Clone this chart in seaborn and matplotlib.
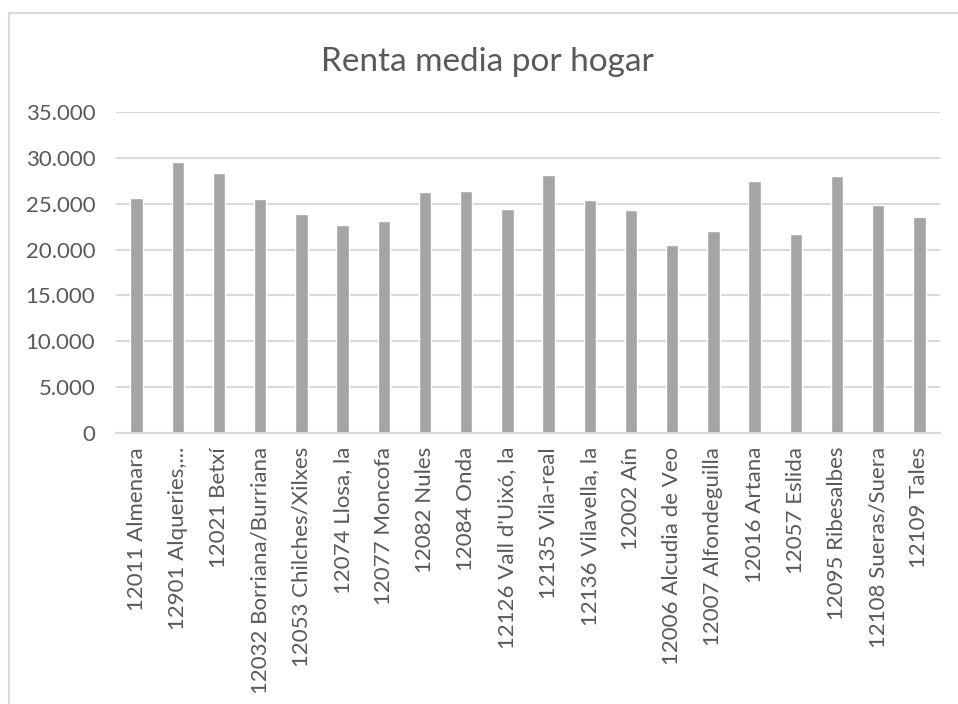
import matplotlib
matplotlib.use("Agg")
import matplotlib.pyplot as plt
import matplotlib.ticker as mticker
from matplotlib.patches import Rectangle
import seaborn as sns
import pandas as pd

# Data
municipios = [
    "12011 Almenara", "12901 Alqueries,...", "12021 Betxí", "12032 Borriana/Burriana",
    "12053 Chilches/Xilxes", "12074 Llosa, la", "12077 Moncofa", "12082 Nules",
    "12084 Onda", "12126 Vall d'Uixó, la", "12135 Vila-real", "12136 Vilavella, la",
    "12002 Aín", "12006 Alcudia de Veo", "12007 Alfondeguilla", "12016 Artana",
    "12057 Eslida", "12095 Ribesalbes", "12108 Sueras/Suera", "12109 Tales",
]
renta = [
    25650, 29560, 28330, 25510, 23830, 22710, 23150, 26230, 26380, 24420,
    28180, 25400, 24270, 20510, 22040, 27490, 21710, 28040, 24860, 23550,
]
y_ticks = [0, 5000, 10000, 15000, 20000, 25000, 30000, 35000]

df = pd.DataFrame({"Municipio": municipios, "Renta": renta})

sns.set_style("white")
plt.rcParams["font.family"] = ["Lato", "DejaVu Sans"]
text_color = "#595959"
grid_color = "#D9D9D9"

fig = plt.figure(figsize=(9.58, 7.04), dpi=100)
ax = fig.add_axes([116 / 958, 1 - 433 / 704, (940 - 116) / 958, (433 - 112) / 704])

sns.barplot(data=df, x="Municipio", y="Renta", color="#A5A5A5", width=0.3,
            saturation=1, ax=ax)

ax.set_ylim(0, 35000)
ax.set_yticks(y_ticks)
ax.yaxis.set_major_formatter(mticker.FuncFormatter(
    lambda v, p: "0" if v == 0 else f"{int(v):,}".replace(",", ".")))
ax.yaxis.grid(True, color=grid_color, linewidth=1.5)
ax.set_axisbelow(True)
ax.set_xlabel("")
ax.set_ylabel("")
for side in ["left", "right", "top"]:
    ax.spines[side].set_visible(False)
ax.spines["bottom"].set_color(grid_color)
ax.spines["bottom"].set_linewidth(1.5)
ax.tick_params(axis="y", length=0, pad=15, labelsize=16, labelcolor=text_color)
ax.tick_params(axis="x", length=0, pad=10, labelsize=16, labelcolor=text_color)
plt.setp(ax.get_xticklabels(), rotation=90, ha="center", va="top")

fig.text(487 / 958, 1 - 62 / 704, "Renta media por hogar", ha="center", va="center",
         fontsize=24, color=text_color)

# chart border like the spreadsheet frame
fig.patches.append(Rectangle((9 / 958, -0.05), 1.1, 1 - 13 / 704 + 0.05,
                             transform=fig.transFigure, fill=False,
                             edgecolor=grid_color, linewidth=1.5))

fig.savefig("out.png", dpi=100)
